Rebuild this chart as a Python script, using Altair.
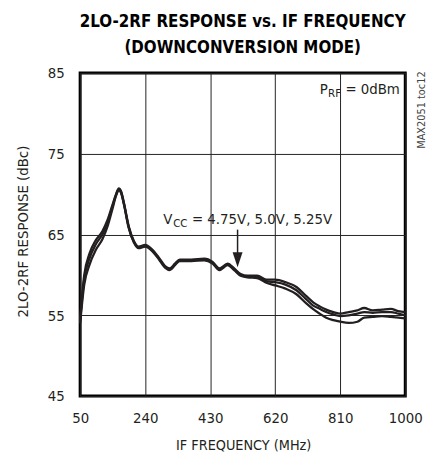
import altair as alt
import pandas as pd

# ---- data ----
freq = [50, 62, 77, 96, 115, 130, 144, 155, 163, 170, 178, 192, 207, 221, 240, 259,
        279, 298, 312, 327, 341, 375, 413, 437, 457, 481, 500, 519, 539, 567, 596, 620,
        650, 682, 710, 731, 750, 769, 790, 810, 835, 860, 880, 905, 932, 958, 980, 1000]

resp_a = [54.6, 60.0, 62.6, 64.3, 65.4, 66.8, 68.6, 70.0, 70.7, 70.3, 68.9, 66.0, 64.2, 63.5,
          63.7, 63.2, 62.2, 61.1, 60.8, 61.4, 61.9, 61.9, 62.0, 61.6, 60.8, 61.4, 60.8, 60.1,
          59.9, 59.9, 59.4, 59.4, 59.1, 58.5, 57.4, 56.6, 56.1, 55.7, 55.4, 55.2, 55.4, 55.6,
          55.9, 55.6, 55.7, 55.8, 55.5, 55.4]
resp_b = [54.3, 59.5, 62.0, 63.8, 65.0, 66.4, 68.4, 69.9, 70.6, 70.2, 68.8, 65.9, 64.1, 63.4,
          63.6, 63.1, 62.1, 61.0, 60.7, 61.3, 61.8, 61.8, 61.9, 61.5, 60.7, 61.3, 60.7, 60.0,
          59.8, 59.8, 59.2, 59.1, 58.8, 58.1, 57.0, 56.2, 55.8, 55.4, 55.1, 54.9, 55.0, 55.2,
          55.4, 55.3, 55.4, 55.4, 55.2, 55.0]
resp_c = [54.0, 58.8, 61.2, 63.1, 64.4, 66.0, 68.1, 69.8, 70.5, 70.1, 68.7, 65.8, 64.0, 63.3,
          63.5, 63.0, 62.0, 60.9, 60.6, 61.2, 61.7, 61.7, 61.8, 61.4, 60.6, 61.2, 60.6, 59.9,
          59.7, 59.6, 59.0, 58.7, 58.3, 57.6, 56.5, 55.75, 55.2, 54.7, 54.4, 54.2, 54.05, 54.2,
          54.7, 54.8, 54.9, 54.8, 54.7, 54.6]
series_names = ["4.75V", "5.0V", "5.25V"]

x_ticks = [50, 240, 430, 620, 810, 1000]
y_ticks = [45, 55, 65, 75, 85]

title_lines = ["2LO-2RF RESPONSE vs. IF FREQUENCY", "(DOWNCONVERSION MODE)"]
x_title = "IF FREQUENCY (MHz)"
y_title = "2LO-2RF RESPONSE (dBc)"

# ---- build table ----
rows = []
for name, ys in zip(series_names, [resp_a, resp_b, resp_c]):
    for f, v in zip(freq, ys):
        rows.append({"freq": f, "resp": v, "vcc": name})
df = pd.DataFrame(rows)

FONT = "'DejaVu Sans Condensed', 'Liberation Sans', sans-serif"
INK = "#231f20"

xscale = alt.Scale(domain=[50, 1000], nice=False, zero=False)
yscale = alt.Scale(domain=[45, 85], nice=False, zero=False)

lines = alt.Chart(df).mark_line(color=INK, strokeWidth=2.3, interpolate="monotone").encode(
    x=alt.X("freq:Q", scale=xscale,
            axis=alt.Axis(values=x_ticks, format="d", title=x_title, labelPadding=15,
                          labelFlush=False,
                          titleX=165, titleY=43, titleBaseline="top", titleAlign="center")),
    y=alt.Y("resp:Q", scale=yscale,
            axis=alt.Axis(values=y_ticks, format="d", title=y_title, labelPadding=16,
                          titleX=-58, titleY=160, titleAngle=270, titleFontSize=15,
                          titleAlign="center", titleBaseline="middle")),
    detail="vcc:N",
)

# arrow annotation
arrow_df = pd.DataFrame({"freq": [510], "y1": [65.6], "y2": [62.3], "tip": [61.87]})
arrow_line = alt.Chart(arrow_df).mark_rule(color=INK, strokeWidth=1.5).encode(
    x=alt.X("freq:Q", scale=xscale), y=alt.Y("y1:Q", scale=yscale), y2="y2:Q")
arrow_head = alt.Chart(arrow_df).mark_point(
    shape="M-0.67,-1L0.67,-1L0,1Z", filled=True, size=225, color=INK, opacity=1
).encode(x=alt.X("freq:Q", scale=xscale), y=alt.Y("tip:Q", scale=yscale))

def label(text, f, v, size, dx=0, dy=0, color=INK, angle=0, align="left", baseline="alphabetic"):
    d = pd.DataFrame({"freq": [f], "resp": [v], "t": [text]})
    kw = dict(align=align, baseline=baseline, font=FONT, fontSize=size, color=color, dx=dx, dy=dy)
    if angle:
        kw["angle"] = angle
    return alt.Chart(d).mark_text(**kw).encode(
        x=alt.X("freq:Q", scale=xscale), y=alt.Y("resp:Q", scale=yscale), text="t:N")

vcc_main = label("V", 293, 66.35, 15)
vcc_sub = label("CC", 293, 66.35, 11.5, dx=10, dy=3)
vcc_rest = label("= 4.75V, 5.0V, 5.25V", 293, 66.35, 15, dx=29)

prf_main = label("P", 750, 82.4, 15)
prf_sub = label("RF", 750, 82.4, 11.5, dx=8.5, dy=3)
prf_rest = label("= 0dBm", 750, 82.4, 15, dx=26)

toc = label("MAX2051 toc12", 1050, 80.4, 11, color="#444", angle=270,
            align="center", baseline="middle")

chart = alt.layer(
    lines, arrow_line, arrow_head,
    vcc_main, vcc_sub, vcc_rest, prf_main, prf_sub, prf_rest, toc,
).properties(
    width=329, height=327,
    autosize=alt.AutoSizeParams(type="none"),
    padding={"left": 73, "top": 63, "right": 22, "bottom": 60},
    title=alt.TitleParams(title_lines, font=FONT, fontSize=17, fontWeight="bold",
                          color="#000", anchor="middle", lineHeight=26, offset=9),
).configure_view(
    stroke="#000", strokeWidth=3,
).configure_axis(
    grid=True, gridColor="#222", gridWidth=1, gridOpacity=1,
    ticks=False, domain=False,
    labelFont=FONT, labelFontSize=15, labelColor=INK,
    titleFont=FONT, titleFontSize=14.5, titleFontWeight="normal", titleColor=INK,
)

chart.save("out.html", embed_options={"renderer": "svg", "actions": False})
